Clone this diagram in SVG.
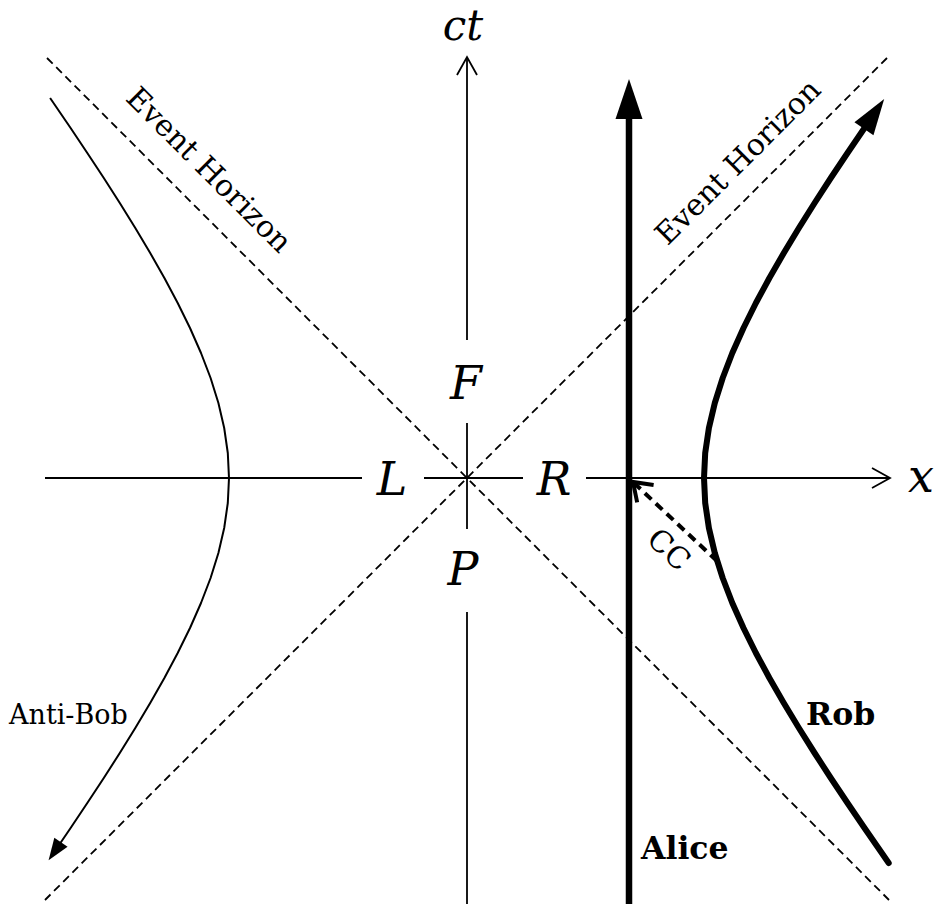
<svg xmlns="http://www.w3.org/2000/svg" width="938" height="904" viewBox="0 0 938 904">
<style>
.axis{stroke:#000;stroke-width:1.8;fill:none}
.hz{stroke:#000;stroke-width:1.8;fill:none;stroke-dasharray:8 5}
.math{font-family:"DejaVu Serif","Liberation Serif",serif;font-style:italic;font-size:46px;fill:#000;text-anchor:middle}
.lbl{font-family:"DejaVu Serif","Liberation Serif",serif;font-size:27px;fill:#000}
.eh{font-family:"DejaVu Serif","Liberation Serif",serif;font-size:30px;fill:#000;text-anchor:middle}
.bold{font-family:"DejaVu Serif","Liberation Serif",serif;font-size:31.5px;font-weight:bold;fill:#000}
</style>
<defs>
<marker id="chev" markerUnits="userSpaceOnUse" markerWidth="30" markerHeight="30" refX="20" refY="15" orient="auto" overflow="visible">
<path d="M2,5 L20,15 L2,25" fill="none" stroke="#000" stroke-width="1.8"/>
</marker>
<marker id="chevCC" markerUnits="userSpaceOnUse" markerWidth="30" markerHeight="30" refX="20" refY="15" orient="auto" overflow="visible">
<path d="M3,3 L20,15 L3,27" fill="none" stroke="#000" stroke-width="4" stroke-linejoin="miter"/>
</marker>
<marker id="bigHead" markerUnits="userSpaceOnUse" markerWidth="42" markerHeight="30" refX="1" refY="15" orient="auto" overflow="visible">
<path d="M0,1.5 L40,15 L0,28.5 z" fill="#000"/>
</marker>
<marker id="robHead" markerUnits="userSpaceOnUse" markerWidth="40" markerHeight="26" refX="1" refY="13" orient="auto" overflow="visible">
<path d="M0,1.5 L36,13 L0,24.5 z" fill="#000"/>
</marker>
<marker id="smallHead" markerUnits="userSpaceOnUse" markerWidth="24" markerHeight="18" refX="1" refY="9" orient="auto" overflow="visible">
<path d="M0,1 L22,9 L0,17 z" fill="#000"/>
</marker>
</defs>
<rect width="938" height="904" fill="#fff"/>

<g id="horizons">
<line class="hz" x1="47" y1="58" x2="889" y2="900"/>
<line class="hz" x1="887" y1="58" x2="45" y2="900"/>
<text class="eh" transform="translate(202,177) rotate(45)">Event Horizon</text>
<text class="eh" transform="translate(745,169) rotate(-45)">Event Horizon</text>
</g>

<g id="axes">
<line class="axis" x1="467" y1="904" x2="467" y2="612"/>
<line class="axis" x1="467" y1="529" x2="467" y2="423"/>
<line class="axis" x1="467" y1="340" x2="467" y2="57" marker-end="url(#chev)"/>
<line class="axis" x1="45" y1="478" x2="362" y2="478"/>
<line class="axis" x1="424" y1="478" x2="523" y2="478"/>
<line class="axis" x1="586" y1="478" x2="890" y2="478" marker-end="url(#chev)"/>
<text class="math" x="463" y="40" style="font-size:42px">ct</text>
<text class="math" x="921" y="492">x</text>
<text class="math" x="466" y="399">F</text>
<text class="math" x="392" y="495">L</text>
<text class="math" x="554" y="495">R</text>
<text class="math" x="463" y="585">P</text>
</g>

<g id="anti-bob">
<path d="M50.1,98 L70.6,128 L87.3,153 L103.8,178 L119.8,203 L135.3,228 L150.2,253 L164.4,278 L177.7,303 L190,328 L201,353 L210.6,378 L218.4,403 L224.2,428 L227.8,453 L229,478 L227.8,503 L224.2,528 L218.4,553 L210.6,578 L201,603 L190,628 L177.7,653 L164.4,678 L150.2,703 L135.3,728 L119.8,753 L103.8,778 L87.3,803 L70.6,828 L60.4,843" fill="none" stroke="#000" stroke-width="2" stroke-linejoin="round" marker-end="url(#smallHead)"/>
<text class="lbl" x="9" y="724">Anti-Bob</text>
</g>

<g id="alice">
<line x1="629" y1="904" x2="629" y2="118" stroke="#000" stroke-width="6.5" marker-end="url(#bigHead)"/>
<text class="bold" x="641" y="859">Alice</text>
</g>

<g id="rob">
<path d="M888.7,863 L881.8,853 L864.5,828 L847.5,803 L830.8,778 L814.6,753 L798.9,728 L783.8,703 L769.4,678 L755.9,653 L743.5,628 L732.3,603 L722.7,578 L714.8,553 L708.9,528 L705.2,503 L704,478 L705.2,453 L708.9,428 L714.8,403 L722.7,378 L732.3,353 L743.5,328 L755.9,303 L769.4,278 L783.8,253 L798.9,228 L814.6,203 L830.8,178 L847.5,153 L864.5,128" fill="none" stroke="#000" stroke-width="6" stroke-linejoin="round" stroke-linecap="round" marker-end="url(#robHead)"/>
<text class="bold" x="806" y="725">Rob</text>
</g>

<g id="connectors">
<path d="M717,561 L633,482" fill="none" stroke="#000" stroke-width="4" stroke-dasharray="9 6" marker-end="url(#chevCC)"/>
<text class="lbl" transform="translate(662,557) rotate(43)" text-anchor="middle" style="font-size:30px">CC</text>
</g>
</svg>
